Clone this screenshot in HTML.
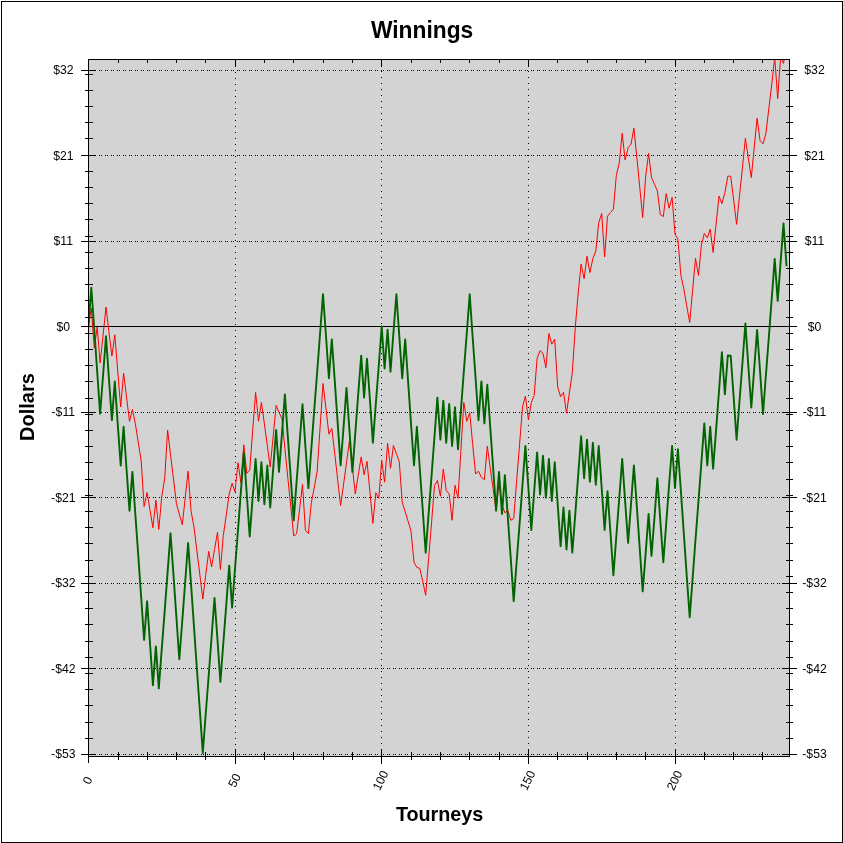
<!DOCTYPE html>
<html lang="en"><head><meta charset="utf-8"><title>Winnings</title>
<style>html,body{margin:0;padding:0;background:#fff;}body{width:843px;height:843px;overflow:hidden;}svg{display:block;font-family:"Liberation Sans",Arial,sans-serif;}.t{font-size:12.2px;fill:#000;text-anchor:middle;}.b{font-weight:bold;fill:#000;text-anchor:middle;}</style></head><body>
<svg width="843" height="843" viewBox="0 0 843 843">
<rect x="0" y="0" width="843" height="843" fill="#fff"/>
<g shape-rendering="crispEdges">
<rect x="1.5" y="1.5" width="841" height="841" fill="none" stroke="#000" stroke-width="1"/>
<rect x="88" y="59" width="702" height="698" fill="#d3d3d3"/>
<g stroke="#000" stroke-width="1" stroke-dasharray="1 5" fill="none">
<line x1="89" y1="70.5" x2="789" y2="70.5"/>
<line x1="790" y1="70.5" x2="89" y2="70.5"/>
<line x1="89" y1="155.5" x2="789" y2="155.5"/>
<line x1="790" y1="155.5" x2="89" y2="155.5"/>
<line x1="89" y1="241.5" x2="789" y2="241.5"/>
<line x1="790" y1="241.5" x2="89" y2="241.5"/>
<line x1="89" y1="412.5" x2="789" y2="412.5"/>
<line x1="790" y1="412.5" x2="89" y2="412.5"/>
<line x1="89" y1="497.5" x2="789" y2="497.5"/>
<line x1="790" y1="497.5" x2="89" y2="497.5"/>
<line x1="89" y1="583.5" x2="789" y2="583.5"/>
<line x1="790" y1="583.5" x2="89" y2="583.5"/>
<line x1="89" y1="668.5" x2="789" y2="668.5"/>
<line x1="790" y1="668.5" x2="89" y2="668.5"/>
<line x1="89" y1="754.5" x2="789" y2="754.5"/>
<line x1="790" y1="754.5" x2="89" y2="754.5"/>
<line x1="235.5" y1="60" x2="235.5" y2="756"/>
<line x1="381.5" y1="59" x2="381.5" y2="756"/>
<line x1="528.5" y1="59" x2="528.5" y2="756"/>
<line x1="675.5" y1="59" x2="675.5" y2="756"/>
</g>
<g stroke="#000" stroke-width="1" fill="none">
<line x1="89" y1="326.5" x2="789" y2="326.5"/>
<rect x="88.5" y="59.5" width="701" height="697"/>
<line x1="81" y1="70.5" x2="96" y2="70.5"/>
<line x1="782" y1="70.5" x2="797" y2="70.5"/>
<line x1="81" y1="155.5" x2="96" y2="155.5"/>
<line x1="782" y1="155.5" x2="797" y2="155.5"/>
<line x1="81" y1="241.5" x2="96" y2="241.5"/>
<line x1="782" y1="241.5" x2="797" y2="241.5"/>
<line x1="81" y1="326.5" x2="96" y2="326.5"/>
<line x1="782" y1="326.5" x2="797" y2="326.5"/>
<line x1="81" y1="412.5" x2="96" y2="412.5"/>
<line x1="782" y1="412.5" x2="797" y2="412.5"/>
<line x1="81" y1="497.5" x2="96" y2="497.5"/>
<line x1="782" y1="497.5" x2="797" y2="497.5"/>
<line x1="81" y1="583.5" x2="96" y2="583.5"/>
<line x1="782" y1="583.5" x2="797" y2="583.5"/>
<line x1="81" y1="668.5" x2="96" y2="668.5"/>
<line x1="782" y1="668.5" x2="797" y2="668.5"/>
<line x1="81" y1="754.5" x2="96" y2="754.5"/>
<line x1="782" y1="754.5" x2="797" y2="754.5"/>
<line x1="85" y1="754.5" x2="93" y2="754.5"/>
<line x1="786" y1="754.5" x2="793" y2="754.5"/>
<line x1="85" y1="738.5" x2="93" y2="738.5"/>
<line x1="786" y1="738.5" x2="793" y2="738.5"/>
<line x1="85" y1="722.5" x2="93" y2="722.5"/>
<line x1="786" y1="722.5" x2="793" y2="722.5"/>
<line x1="85" y1="705.5" x2="93" y2="705.5"/>
<line x1="786" y1="705.5" x2="793" y2="705.5"/>
<line x1="85" y1="689.5" x2="93" y2="689.5"/>
<line x1="786" y1="689.5" x2="793" y2="689.5"/>
<line x1="85" y1="673.5" x2="93" y2="673.5"/>
<line x1="786" y1="673.5" x2="793" y2="673.5"/>
<line x1="85" y1="657.5" x2="93" y2="657.5"/>
<line x1="786" y1="657.5" x2="793" y2="657.5"/>
<line x1="85" y1="641.5" x2="93" y2="641.5"/>
<line x1="786" y1="641.5" x2="793" y2="641.5"/>
<line x1="85" y1="624.5" x2="93" y2="624.5"/>
<line x1="786" y1="624.5" x2="793" y2="624.5"/>
<line x1="85" y1="608.5" x2="93" y2="608.5"/>
<line x1="786" y1="608.5" x2="793" y2="608.5"/>
<line x1="85" y1="592.5" x2="93" y2="592.5"/>
<line x1="786" y1="592.5" x2="793" y2="592.5"/>
<line x1="85" y1="576.5" x2="93" y2="576.5"/>
<line x1="786" y1="576.5" x2="793" y2="576.5"/>
<line x1="85" y1="560.5" x2="93" y2="560.5"/>
<line x1="786" y1="560.5" x2="793" y2="560.5"/>
<line x1="85" y1="543.5" x2="93" y2="543.5"/>
<line x1="786" y1="543.5" x2="793" y2="543.5"/>
<line x1="85" y1="527.5" x2="93" y2="527.5"/>
<line x1="786" y1="527.5" x2="793" y2="527.5"/>
<line x1="85" y1="511.5" x2="93" y2="511.5"/>
<line x1="786" y1="511.5" x2="793" y2="511.5"/>
<line x1="85" y1="495.5" x2="93" y2="495.5"/>
<line x1="786" y1="495.5" x2="793" y2="495.5"/>
<line x1="85" y1="479.5" x2="93" y2="479.5"/>
<line x1="786" y1="479.5" x2="793" y2="479.5"/>
<line x1="85" y1="462.5" x2="93" y2="462.5"/>
<line x1="786" y1="462.5" x2="793" y2="462.5"/>
<line x1="85" y1="446.5" x2="93" y2="446.5"/>
<line x1="786" y1="446.5" x2="793" y2="446.5"/>
<line x1="85" y1="430.5" x2="93" y2="430.5"/>
<line x1="786" y1="430.5" x2="793" y2="430.5"/>
<line x1="85" y1="414.5" x2="93" y2="414.5"/>
<line x1="786" y1="414.5" x2="793" y2="414.5"/>
<line x1="85" y1="398.5" x2="93" y2="398.5"/>
<line x1="786" y1="398.5" x2="793" y2="398.5"/>
<line x1="85" y1="381.5" x2="93" y2="381.5"/>
<line x1="786" y1="381.5" x2="793" y2="381.5"/>
<line x1="85" y1="365.5" x2="93" y2="365.5"/>
<line x1="786" y1="365.5" x2="793" y2="365.5"/>
<line x1="85" y1="349.5" x2="93" y2="349.5"/>
<line x1="786" y1="349.5" x2="793" y2="349.5"/>
<line x1="85" y1="333.5" x2="93" y2="333.5"/>
<line x1="786" y1="333.5" x2="793" y2="333.5"/>
<line x1="85" y1="317.5" x2="93" y2="317.5"/>
<line x1="786" y1="317.5" x2="793" y2="317.5"/>
<line x1="85" y1="300.5" x2="93" y2="300.5"/>
<line x1="786" y1="300.5" x2="793" y2="300.5"/>
<line x1="85" y1="284.5" x2="93" y2="284.5"/>
<line x1="786" y1="284.5" x2="793" y2="284.5"/>
<line x1="85" y1="268.5" x2="93" y2="268.5"/>
<line x1="786" y1="268.5" x2="793" y2="268.5"/>
<line x1="85" y1="252.5" x2="93" y2="252.5"/>
<line x1="786" y1="252.5" x2="793" y2="252.5"/>
<line x1="85" y1="236.5" x2="93" y2="236.5"/>
<line x1="786" y1="236.5" x2="793" y2="236.5"/>
<line x1="85" y1="219.5" x2="93" y2="219.5"/>
<line x1="786" y1="219.5" x2="793" y2="219.5"/>
<line x1="85" y1="203.5" x2="93" y2="203.5"/>
<line x1="786" y1="203.5" x2="793" y2="203.5"/>
<line x1="85" y1="187.5" x2="93" y2="187.5"/>
<line x1="786" y1="187.5" x2="793" y2="187.5"/>
<line x1="85" y1="171.5" x2="93" y2="171.5"/>
<line x1="786" y1="171.5" x2="793" y2="171.5"/>
<line x1="85" y1="155.5" x2="93" y2="155.5"/>
<line x1="786" y1="155.5" x2="793" y2="155.5"/>
<line x1="85" y1="138.5" x2="93" y2="138.5"/>
<line x1="786" y1="138.5" x2="793" y2="138.5"/>
<line x1="85" y1="122.5" x2="93" y2="122.5"/>
<line x1="786" y1="122.5" x2="793" y2="122.5"/>
<line x1="85" y1="106.5" x2="93" y2="106.5"/>
<line x1="786" y1="106.5" x2="793" y2="106.5"/>
<line x1="85" y1="90.5" x2="93" y2="90.5"/>
<line x1="786" y1="90.5" x2="793" y2="90.5"/>
<line x1="85" y1="74.5" x2="93" y2="74.5"/>
<line x1="786" y1="74.5" x2="793" y2="74.5"/>
<line x1="88.5" y1="749" x2="88.5" y2="763"/>
<line x1="88.5" y1="59" x2="88.5" y2="67"/>
<line x1="235.5" y1="749" x2="235.5" y2="764"/>
<line x1="235.5" y1="59" x2="235.5" y2="67"/>
<line x1="381.5" y1="749" x2="381.5" y2="764"/>
<line x1="381.5" y1="59" x2="381.5" y2="67"/>
<line x1="528.5" y1="749" x2="528.5" y2="764"/>
<line x1="528.5" y1="59" x2="528.5" y2="67"/>
<line x1="675.5" y1="749" x2="675.5" y2="764"/>
<line x1="675.5" y1="59" x2="675.5" y2="67"/>
<line x1="88.5" y1="752" x2="88.5" y2="760"/>
<line x1="88.5" y1="59" x2="88.5" y2="63"/>
<line x1="118.5" y1="752" x2="118.5" y2="760"/>
<line x1="118.5" y1="59" x2="118.5" y2="63"/>
<line x1="147.5" y1="752" x2="147.5" y2="760"/>
<line x1="147.5" y1="59" x2="147.5" y2="63"/>
<line x1="176.5" y1="752" x2="176.5" y2="760"/>
<line x1="176.5" y1="59" x2="176.5" y2="63"/>
<line x1="205.5" y1="752" x2="205.5" y2="760"/>
<line x1="205.5" y1="59" x2="205.5" y2="63"/>
<line x1="235.5" y1="752" x2="235.5" y2="760"/>
<line x1="235.5" y1="59" x2="235.5" y2="63"/>
<line x1="264.5" y1="752" x2="264.5" y2="760"/>
<line x1="264.5" y1="59" x2="264.5" y2="63"/>
<line x1="293.5" y1="752" x2="293.5" y2="760"/>
<line x1="293.5" y1="59" x2="293.5" y2="63"/>
<line x1="323.5" y1="752" x2="323.5" y2="760"/>
<line x1="323.5" y1="59" x2="323.5" y2="63"/>
<line x1="352.5" y1="752" x2="352.5" y2="760"/>
<line x1="352.5" y1="59" x2="352.5" y2="63"/>
<line x1="381.5" y1="752" x2="381.5" y2="760"/>
<line x1="381.5" y1="59" x2="381.5" y2="63"/>
<line x1="411.5" y1="752" x2="411.5" y2="760"/>
<line x1="411.5" y1="59" x2="411.5" y2="63"/>
<line x1="440.5" y1="752" x2="440.5" y2="760"/>
<line x1="440.5" y1="59" x2="440.5" y2="63"/>
<line x1="469.5" y1="752" x2="469.5" y2="760"/>
<line x1="469.5" y1="59" x2="469.5" y2="63"/>
<line x1="499.5" y1="752" x2="499.5" y2="760"/>
<line x1="499.5" y1="59" x2="499.5" y2="63"/>
<line x1="528.5" y1="752" x2="528.5" y2="760"/>
<line x1="528.5" y1="59" x2="528.5" y2="63"/>
<line x1="557.5" y1="752" x2="557.5" y2="760"/>
<line x1="557.5" y1="59" x2="557.5" y2="63"/>
<line x1="587.5" y1="752" x2="587.5" y2="760"/>
<line x1="587.5" y1="59" x2="587.5" y2="63"/>
<line x1="616.5" y1="752" x2="616.5" y2="760"/>
<line x1="616.5" y1="59" x2="616.5" y2="63"/>
<line x1="645.5" y1="752" x2="645.5" y2="760"/>
<line x1="645.5" y1="59" x2="645.5" y2="63"/>
<line x1="675.5" y1="752" x2="675.5" y2="760"/>
<line x1="675.5" y1="59" x2="675.5" y2="63"/>
<line x1="704.5" y1="752" x2="704.5" y2="760"/>
<line x1="704.5" y1="59" x2="704.5" y2="63"/>
<line x1="733.5" y1="752" x2="733.5" y2="760"/>
<line x1="733.5" y1="59" x2="733.5" y2="63"/>
<line x1="762.5" y1="752" x2="762.5" y2="760"/>
<line x1="762.5" y1="59" x2="762.5" y2="63"/>
</g></g>
<defs><clipPath id="pc"><rect x="89" y="60" width="700" height="696"/></clipPath></defs>
<g clip-path="url(#pc)" fill="none" stroke-linejoin="round" stroke-linecap="round">
<polyline points="88.4,326.5 91.3,308.0 94.3,348.0 97.2,327.0 100.1,363.0 103.1,335.0 106.0,307.0 108.9,331.5 111.9,356.0 114.8,334.8 117.7,370.9 120.7,407.0 123.6,373.0 126.5,397.1 129.5,421.3 132.4,409.5 135.3,423.5 138.3,442.5 141.2,461.0 144.1,506.5 147.1,492.5 150.0,510.1 152.9,527.7 155.9,500.2 158.8,529.5 161.7,497.0 164.7,478.5 167.6,430.0 170.5,454.5 173.5,479.0 176.4,503.5 179.3,514.1 182.3,524.8 185.2,498.0 188.1,471.2 191.1,511.3 194.0,527.0 196.9,551.0 199.9,575.1 202.8,599.1 205.7,575.2 208.7,551.4 211.6,567.0 214.5,549.6 217.5,532.3 220.4,569.5 223.3,535.5 226.3,514.8 229.2,494.0 232.1,483.3 235.0,491.9 238.0,462.7 240.9,482.6 243.8,444.8 246.8,473.4 249.7,470.5 252.6,431.4 255.6,392.3 258.5,421.2 261.4,402.3 264.4,423.9 267.3,445.4 270.2,467.0 273.2,436.2 276.1,405.4 279.0,412.2 282.0,419.0 284.9,448.2 287.8,477.5 290.8,506.8 293.7,536.0 296.6,533.9 299.6,509.1 302.5,484.4 305.4,530.4 308.4,533.5 311.3,502.8 314.2,488.0 317.2,471.0 320.1,427.2 323.0,383.5 326.0,408.9 328.9,434.2 331.8,428.4 334.8,454.1 337.7,479.9 340.6,505.6 343.6,484.1 346.5,462.7 349.4,441.2 352.4,467.6 355.3,494.0 358.2,475.4 361.2,456.9 364.1,474.7 367.0,461.4 370.0,492.4 372.9,523.4 375.8,492.7 378.8,498.3 381.7,460.4 384.6,482.2 387.6,443.3 390.5,468.3 393.4,445.5 396.4,453.7 399.3,461.9 402.2,502.0 405.2,511.7 408.1,521.3 411.0,531.0 414.0,562.2 416.9,567.5 419.8,568.3 422.8,581.8 425.7,595.3 428.6,558.7 431.6,522.1 434.5,485.5 437.4,480.4 440.4,496.2 443.3,469.0 446.2,490.3 449.2,494.0 452.1,520.3 455.0,485.3 458.0,498.3 460.9,450.4 463.8,402.5 466.8,421.3 469.7,412.7 472.6,443.4 475.6,474.0 478.5,471.1 481.4,477.5 484.4,479.6 487.3,446.2 490.2,467.8 493.2,489.4 496.1,511.0 499.0,483.0 502.0,505.0 504.9,512.8 507.8,510.5 510.8,520.3 513.7,518.7 516.6,481.4 519.6,444.1 522.5,406.8 525.4,396.1 528.4,419.6 531.3,402.5 534.2,395.4 537.1,358.4 540.1,350.6 543.0,353.4 545.9,367.7 548.9,333.5 551.8,344.2 554.7,339.2 557.7,386.9 560.6,396.8 563.5,392.3 566.5,413.2 569.4,392.9 572.3,372.6 575.3,327.1 578.2,293.0 581.1,264.1 584.1,278.7 587.0,256.2 589.9,272.6 592.9,258.4 595.8,251.2 598.7,222.8 601.7,213.5 604.6,257.0 607.5,216.2 610.5,212.5 613.4,209.3 616.3,175.5 619.3,162.7 622.2,133.2 625.1,160.1 628.1,147.7 631.0,144.2 633.9,128.2 636.9,158.0 639.8,187.8 642.7,217.6 645.7,176.2 648.6,153.4 651.5,177.6 654.5,184.3 657.4,191.1 660.3,214.6 663.3,216.5 666.2,193.7 669.1,208.2 672.1,197.5 675.0,234.2 677.9,239.2 680.9,275.5 683.8,288.7 686.7,305.7 689.7,322.5 692.6,290.4 695.5,258.4 698.5,275.5 701.4,245.0 704.3,233.5 707.3,237.8 710.2,229.2 713.1,252.4 716.1,224.0 719.0,196.1 721.9,203.7 724.9,192.6 727.8,176.2 730.7,176.2 733.7,200.3 736.6,224.4 739.5,195.7 742.5,166.9 745.4,138.2 748.3,157.9 751.3,177.6 754.2,147.9 757.1,118.2 760.1,140.6 763.0,143.9 765.9,133.5 768.9,108.0 771.8,84.0 774.7,57.0 777.7,98.6 780.6,57.0 783.5,63.4 786.5,45.0" stroke="#ff0000" stroke-width="1"/>
<polyline points="88.4,326.6 91.3,287.8 94.3,329.8 97.2,371.8 100.1,413.8 103.1,375.0 106.0,336.2 108.9,378.2 111.9,420.2 114.8,381.5 117.7,423.5 120.7,465.5 123.6,426.7 126.5,468.7 129.5,510.7 132.4,471.9 135.3,513.9 138.3,555.9 141.2,597.9 144.1,639.9 147.1,601.2 150.0,643.2 152.9,685.2 155.9,646.4 158.8,688.4 161.7,649.6 164.7,610.9 167.6,572.1 170.5,533.3 173.5,575.3 176.4,617.3 179.3,659.3 182.3,620.5 185.2,581.8 188.1,543.0 191.1,585.0 194.0,627.0 196.9,669.0 199.9,711.0 202.8,753.0 205.7,714.2 208.7,675.5 211.6,636.7 214.5,597.9 217.5,639.9 220.4,681.9 223.3,643.2 226.3,604.4 229.2,565.6 232.1,607.6 235.0,568.8 238.0,530.1 240.9,491.3 243.8,452.5 246.8,494.5 249.7,536.5 252.6,497.8 255.6,459.0 258.5,501.0 261.4,462.2 264.4,504.2 267.3,465.5 270.2,507.5 273.2,468.7 276.1,429.9 279.0,471.9 282.0,433.1 284.9,394.4 287.8,436.4 290.8,478.4 293.7,520.4 296.6,481.6 299.6,442.8 302.5,404.1 305.4,446.1 308.4,488.1 311.3,449.3 314.2,410.5 317.2,371.8 320.1,333.0 323.0,294.2 326.0,336.2 328.9,378.2 331.8,339.4 334.8,381.4 337.7,423.4 340.6,465.4 343.6,426.7 346.5,387.9 349.4,429.9 352.4,471.9 355.3,433.1 358.2,394.4 361.2,355.6 364.1,397.6 367.0,358.8 370.0,400.8 372.9,442.8 375.8,404.1 378.8,365.3 381.7,326.5 384.6,368.5 387.6,329.7 390.5,371.7 393.4,333.0 396.4,294.2 399.3,336.2 402.2,378.2 405.2,339.4 408.1,381.4 411.0,423.4 414.0,465.4 416.9,426.7 419.8,468.7 422.8,510.7 425.7,552.7 428.6,513.9 431.6,475.1 434.5,436.4 437.4,397.6 440.4,439.6 443.3,400.8 446.2,442.8 449.2,404.0 452.1,446.0 455.0,407.3 458.0,449.3 460.9,410.5 463.8,371.7 466.8,333.0 469.7,294.2 472.6,336.2 475.6,378.2 478.5,420.2 481.4,381.4 484.4,423.4 487.3,384.7 490.2,426.7 493.2,468.7 496.1,510.7 499.0,471.9 502.0,513.9 504.9,475.1 507.8,517.1 510.8,559.1 513.7,601.1 516.6,562.3 519.6,523.6 522.5,484.8 525.4,446.0 528.4,488.0 531.3,530.0 534.2,491.3 537.1,452.5 540.1,494.5 543.0,455.7 545.9,497.7 548.9,459.0 551.8,501.0 554.7,462.2 557.7,504.2 560.6,546.2 563.5,507.4 566.5,549.4 569.4,510.6 572.3,552.6 575.3,513.9 578.2,475.1 581.1,436.3 584.1,478.3 587.0,439.6 589.9,481.6 592.9,442.8 595.8,484.8 598.7,446.0 601.7,488.0 604.6,530.0 607.5,491.3 610.5,533.3 613.4,575.3 616.3,536.5 619.3,497.7 622.2,458.9 625.1,500.9 628.1,542.9 631.0,504.2 633.9,465.4 636.9,507.4 639.8,549.4 642.7,591.4 645.7,552.6 648.6,513.9 651.5,555.9 654.5,517.1 657.4,478.3 660.3,520.3 663.3,562.3 666.2,523.6 669.1,484.8 672.1,446.0 675.0,488.0 677.9,449.2 680.9,491.2 683.8,533.2 686.7,575.2 689.7,617.2 692.6,578.5 695.5,539.7 698.5,500.9 701.4,462.2 704.3,423.4 707.3,465.4 710.2,426.6 713.1,468.6 716.1,429.9 719.0,391.1 721.9,352.3 724.9,394.3 727.8,355.5 730.7,355.8 733.7,397.8 736.6,439.8 739.5,401.1 742.5,362.3 745.4,323.5 748.3,365.5 751.3,407.5 754.2,368.8 757.1,330.0 760.1,372.0 763.0,414.0 765.9,375.2 768.9,336.5 771.8,297.7 774.7,258.9 777.7,300.9 780.6,262.1 783.5,223.4 786.5,265.4" stroke="#006400" stroke-width="1.9"/>
</g>
<text class="b" transform="translate(422.1,37.9) scale(1,1.045)" font-size="22.8">Winnings</text>
<text class="b" x="439.6" y="820.6" font-size="19.75">Tourneys</text>
<text class="b" transform="translate(34.2,407) rotate(-90)" font-size="20">Dollars</text>
<text class="t" x="63.3" y="74.40">$32</text>
<text class="t" x="814.5" y="74.40">$32</text>
<text class="t" x="63.3" y="159.90">$21</text>
<text class="t" x="814.5" y="159.90">$21</text>
<text class="t" x="63.3" y="245.40">$11</text>
<text class="t" x="814.5" y="245.40">$11</text>
<text class="t" x="63.3" y="330.90">$0</text>
<text class="t" x="814.5" y="330.90">$0</text>
<text class="t" x="63.3" y="416.40">-$11</text>
<text class="t" x="814.5" y="416.40">-$11</text>
<text class="t" x="63.3" y="501.90">-$21</text>
<text class="t" x="814.5" y="501.90">-$21</text>
<text class="t" x="63.3" y="587.40">-$32</text>
<text class="t" x="814.5" y="587.40">-$32</text>
<text class="t" x="63.3" y="672.90">-$42</text>
<text class="t" x="814.5" y="672.90">-$42</text>
<text class="t" x="63.3" y="758.40">-$53</text>
<text class="t" x="814.5" y="758.40">-$53</text>
<text class="t" transform="translate(87.3,780.3) rotate(-64)" y="4.3">0</text>
<text class="t" transform="translate(234.3,780.3) rotate(-64)" y="4.3">50</text>
<text class="t" transform="translate(380.3,780.3) rotate(-64)" y="4.3">100</text>
<text class="t" transform="translate(527.3,780.3) rotate(-64)" y="4.3">150</text>
<text class="t" transform="translate(674.3,780.3) rotate(-64)" y="4.3">200</text>
</svg></body></html>
